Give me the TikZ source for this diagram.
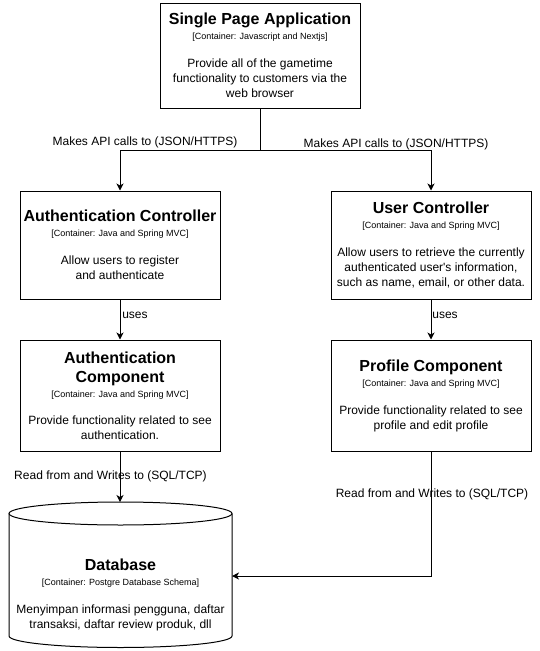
\documentclass[tikz,border=0pt]{standalone}
\usepackage{fontspec}
\setmainfont{Liberation Sans}
\usetikzlibrary{arrows.meta}

\newcommand{\ctitle}[1]{{\fontsize{16}{19}\selectfont\bfseries #1}}
\newcommand{\ctech}[1]{{\fontsize{9}{11}\selectfont [Container: #1]}}

\begin{document}
\begin{tikzpicture}[x=1pt,y=-1pt,line width=1pt,
  >={Stealth[length=7pt,width=7pt,inset=2pt]},
  font=\fontsize{12}{15}\selectfont,
  container/.style={draw,align=center,minimum width=200pt,inner sep=2pt},
  lbl/.style={inner sep=0pt}]
\useasboundingbox (0,0) rectangle (540,651);

\node[container,minimum height=105pt] (spa) at (260,55.5) {\ctitle{Single Page Application}\\ \ctech{Javascript and Nextjs}\\[13pt] Provide all of the gametime\\ functionality to customers via the\\ web browser};

\node[container,minimum height=108pt] (ac) at (120,245) {\ctitle{Authentication Controller}\\ \ctech{Java and Spring MVC}\\[13pt] Allow users to register\\ and authenticate};
\node[container,minimum height=108pt] (uc) at (431,245) {\ctitle{User Controller}\\ \ctech{Java and Spring MVC}\\[13pt] Allow users to retrieve the currently\\ authenticated user\textquotesingle s information,\\ such as name, email, or other data.};

\node[container,minimum height=111pt] (acomp) at (120,395.5) {\ctitle{Authentication}\\[4pt] \ctitle{Component}\\ \ctech{Java and Spring MVC}\\[12pt] Provide functionality related to see\\ authentication.};
\node[container,minimum height=111pt] (pcomp) at (431,395.5) {\ctitle{Profile Component}\\ \ctech{Java and Spring MVC}\\[13pt] Provide functionality related to see\\ profile and edit profile};

% database cylinder
\draw (120.5,513.5) ellipse [x radius=111.5, y radius=11.5];
\draw (9,513.5) -- (9,636) arc [start angle=180, end angle=0, x radius=111.5, y radius=11.5] -- (232,513.5);
\node[align=center] (db) at (120.5,595) {\ctitle{Database}\\ \ctech{Postgre Database Schema}\\[13pt] Menyimpan informasi pengguna, daftar\\ transaksi, daftar review produk, dll};
\coordinate (dbtop) at (120,502);
\coordinate (dbright) at (232,576);

% connectors
\coordinate (split) at (260,150);
\draw (spa.south) -- (split);
\draw[->] (split) -| (ac.north);
\draw[->] (split) -| (uc.north);
\draw[->] (ac) -- (acomp);
\draw[->] (uc) -- (pcomp);
\draw[->] (acomp) -- (dbtop);
\draw[->] (pcomp) |- (dbright);

\node[lbl] (api1) at (145,142) {Makes API calls to (JSON/HTTPS)};
\node[lbl] (api2) at (396,144) {Makes API calls to (JSON/HTTPS)};
\node[lbl] (uses1) at (135,315) {uses};
\node[lbl] (uses2) at (445,315) {uses};
\node[lbl] (rw1) at (110.5,476) {Read from and Writes to (SQL/TCP)};
\node[lbl] (rw2) at (432,494) {Read from and Writes to (SQL/TCP)};

\end{tikzpicture}
\end{document}
